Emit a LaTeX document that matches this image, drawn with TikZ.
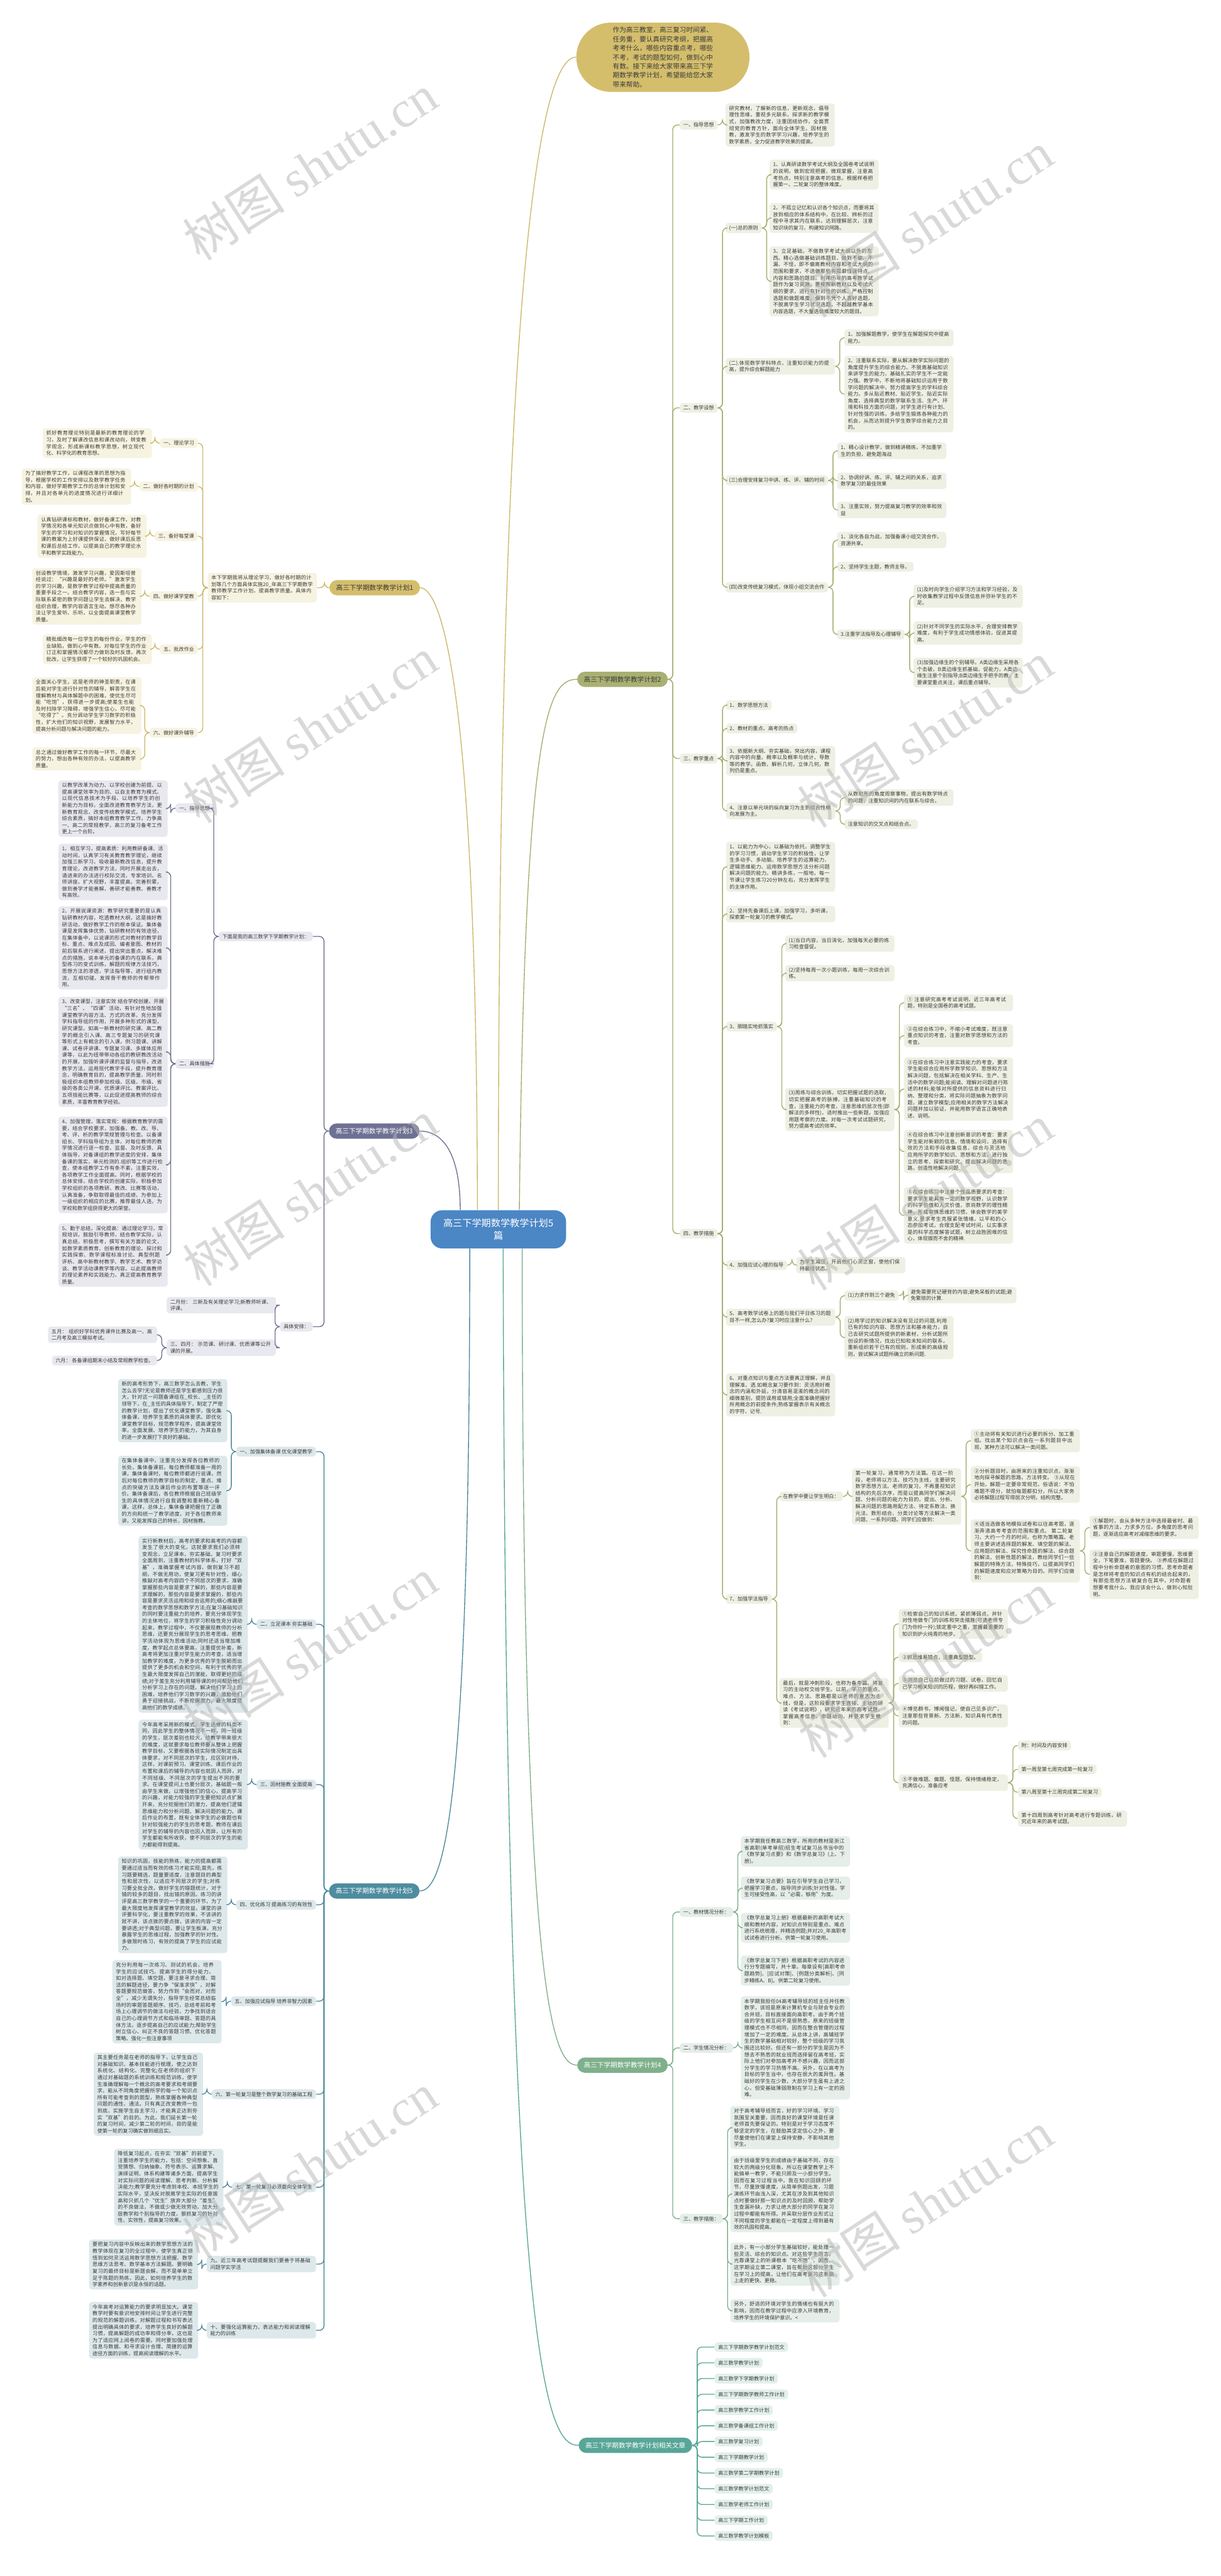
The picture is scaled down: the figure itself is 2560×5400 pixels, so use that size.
\documentclass[tikz,border=0pt]{standalone}
\usepackage{fontspec}
\setmainfont{Noto Sans CJK SC}
\newfontfamily\wmlat{Liberation Serif}
\XeTeXlinebreaklocale "zh"
\XeTeXlinebreakskip=0pt plus 1pt
\definecolor{txt}{HTML}{3A3A3A}
\definecolor{f1}{HTML}{F7F3E1}\definecolor{n1}{HTML}{D4BE6C}\definecolor{l1}{HTML}{CDB868}
\definecolor{f2}{HTML}{EFF0E4}\definecolor{n2}{HTML}{A9B072}\definecolor{l2}{HTML}{A6AD6E}
\definecolor{f3}{HTML}{E8E8EF}\definecolor{n3}{HTML}{6F7194}\definecolor{l3}{HTML}{6E7090}
\definecolor{f4}{HTML}{E5EEE8}\definecolor{n4}{HTML}{7FB08C}\definecolor{l4}{HTML}{80AE8C}
\definecolor{f5}{HTML}{DDE8EB}\definecolor{n5}{HTML}{4E8C9F}\definecolor{l5}{HTML}{4D889B}
\definecolor{f6}{HTML}{E2F0EC}\definecolor{n6}{HTML}{58A697}\definecolor{l6}{HTML}{5AA597}
\definecolor{cc}{HTML}{4B86C5}
\definecolor{wm}{HTML}{B5B5B5}
\tikzset{
  base/.style={rounded corners=3pt, inner xsep=3.75pt, inner ysep=2.6pt, text=txt, font=\fontsize{5.35}{7}\selectfont},
  leaf/.style={base, text width=107pt, align=left},
  lab/.style={base},
  F1/.style={fill=f1},F2/.style={fill=f2},F3/.style={fill=f3},F4/.style={fill=f4},F5/.style={fill=f5},F6/.style={fill=f6},
  L1/.style={draw=l1, line width=0.9pt, rounded corners=5pt},
  L2/.style={draw=l2, line width=0.9pt, rounded corners=5pt},
  L3/.style={draw=l3, line width=0.9pt, rounded corners=5pt},
  L4/.style={draw=l4, line width=0.9pt, rounded corners=5pt},
  L5/.style={draw=l5, line width=0.9pt, rounded corners=5pt},
  L6/.style={draw=l6, line width=0.9pt, rounded corners=5pt},
  mainnode/.style={rounded corners=8pt, inner xsep=7pt, inner ysep=4pt, font=\fontsize{7}{9}\selectfont, minimum height=16pt},
  wmark/.style={rotate=33, text=wm, opacity=0.5, font=\fontsize{54}{54}\selectfont},
}
\newcommand\conR[3]{\draw[#1] (#2.east) -- ++(5pt,0pt) |- (#3.west);}
\newcommand\conL[3]{\draw[#1] (#2.west) -- ++(-5pt,0pt) |- (#3.east);}
\begin{document}
\begin{tikzpicture}[x=0.5pt,y=-0.5pt]
\useasboundingbox (0,0) rectangle (2560,5400);
\fill[white] (0,0) rectangle (2560,5400);

% ---------- center and root ----------
\node[fill=cc, text=white, rounded corners=12pt, font=\fontsize{10}{13}\selectfont, minimum width=142pt, minimum height=40pt, align=center] (cen) at (1045,2577) {高三下学期数学教学计划5\\篇};
\node[fill=n1, text=txt, rounded corners=36pt, text width=105pt, align=left, font=\fontsize{7}{9.5}\selectfont, minimum width=181.5pt, minimum height=72.5pt] (top) at (1390,120) {作为高三教室，高三复习时间紧、任务重，要认真研究考纲，把握高考考什么，哪些内容重点考，哪些不考，考试的题型如何，做到心中有数。接下来给大家带来高三下学期数学教学计划，希望能给您大家带来帮助。};

% ---------- main nodes ----------
\node[mainnode, fill=n1, text=txt, anchor=east] (b1) at (881,1232) {高三下学期数学教学计划1};
\node[mainnode, fill=n2, text=txt, anchor=west] (b2) at (1210,1424) {高三下学期数学教学计划2};
\node[mainnode, fill=n3, text=white, anchor=east] (b3) at (880,2371) {高三下学期数学教学计划3};
\node[mainnode, fill=n5, text=white, anchor=east] (b5) at (880,3964) {高三下学期数学教学计划5};
\node[mainnode, fill=n4, text=white, anchor=west] (b4) at (1210,4329) {高三下学期数学教学计划4};
\node[mainnode, fill=n6, text=white, anchor=west] (b6) at (1213,5126) {高三下学期数学教学计划相关文章};

\draw[l1, line width=0.9pt] (cen.north) .. controls (1045,600) and (1130,118) .. (top.west);
\draw[l1, line width=0.9pt] ([xshift=-22pt]cen.north) .. controls (1000,1400) and (920,1232) .. (b1.east);
\draw[l2, line width=0.9pt] ([xshift=22pt]cen.north) .. controls (1100,1500) and (1150,1424) .. (b2.west);
\draw[l3, line width=0.9pt] ([xshift=-40pt]cen.north) .. controls (965,2420) and (930,2371) .. (b3.east);
\draw[l5, line width=0.9pt] ([xshift=-30pt]cen.south) .. controls (985,3800) and (930,3964) .. (b5.east);
\draw[l4, line width=0.9pt] ([xshift=25pt]cen.south) .. controls (1095,4200) and (1160,4329) .. (b4.west);
\draw[l6, line width=0.9pt] ([xshift=5pt]cen.south) .. controls (1060,5000) and (1150,5126) .. (b6.west);

% ---------- branch 1 (left, gold) ----------
\node[leaf,F1,anchor=east] (b1a) at (665,1232) {本下学期我将从理论学习、做好各时期的计划等几个方面具体实施20\_年高三下学期数学教师教学工作计划，提高教学质量。具体内容如下：};
\node[lab,F1,anchor=east] (b1a1) at (415,929) {一、理论学习};
\node[leaf,F1,anchor=east] (b1a1x) at (319,929) {抓好教育理论特别是最新的教育理论的学习，及时了解课改信息和课改动向，转变教学观念，形成新课标教学思想，树立现代化、科学化的教育思想。};
\node[lab,F1,anchor=east] (b1a2) at (415,1020) {二、做好各时期的计划};
\node[leaf,F1,anchor=east] (b1a2x) at (275,1020) {为了搞好教学工作，以课程改革的思想为指导，根据学校的工作安排以及数学教学任务和内容，做好学期教学工作的总体计划和安排，并且对各单元的进度情况进行详细计划。};
\node[lab,F1,anchor=east] (b1a3) at (415,1124) {三、备好每堂课};
\node[leaf,F1,anchor=east] (b1a3x) at (308,1124) {认真钻研课标和教材，做好备课工作，对教学情况和各单元知识点做到心中有数，备好学生的学习和对知识的掌握情况，写好每节课的教案为上好课提供保证，做好课后反思和课后总结工作，以提高自己的教学理论水平和教学实践能力。};
\node[lab,F1,anchor=east] (b1a4) at (415,1250) {四、做好课学堂教};
\node[leaf,F1,anchor=east] (b1a4x) at (297,1250) {创设教学情境，激发学习兴趣，爱因斯坦曾经说过：“兴趣是最好的老师。”激发学生的学习兴趣，是数学教学过程中提高质量的重要手段之一。结合教学内容，选一些与实际联系紧密的数学问题让学生去解决，教学组织合理，教学内容语言生动。想尽各种办法让学生爱听、乐听，以全面提高课堂教学质量。};
\node[lab,F1,anchor=east] (b1a5) at (415,1361) {五、批改作业};
\node[leaf,F1,anchor=east] (b1a5x) at (319,1361) {精批细改每一位学生的每份作业，学生的作业缺陷，做到心中有数。对每位学生的作业订正和掌握情况都尽力做到及时反馈，再次批改，让学生获得了一个较好的巩固机会。};
\node[lab,F1,anchor=east] (b1a6) at (415,1536) {六、做好课外辅导};
\node[leaf,F1,anchor=east] (b1a6x) at (297,1479) {全面关心学生，这是老师的神圣职责，在课后能对学生进行针对性的辅导，解答学生在理解教材与具体解题中的困难，使优生尽可能“吃饱”，获得进一步提高;使差生也能及时扫除学习障碍，增强学生信心，尽可能“吃得了”。充分调动学生学习数学的积极性，扩大他们的知识视野，发展智力水平，提高分析问题与解决问题的能力。};
\node[leaf,F1,anchor=east] (b1a6y) at (297,1591) {总之通过做好教学工作的每一环节，尽最大的努力，想出各种有效的办法，以提高教学质量。};
\conL{L1}{b1}{b1a}
\foreach \c in {b1a1,b1a2,b1a3,b1a4,b1a5,b1a6} {\conL{L1}{b1a}{\c}}
\foreach \p in {b1a1,b1a2,b1a3,b1a4,b1a5} {\conL{L1}{\p}{\p x}}
\conL{L1}{b1a6}{b1a6x}\conL{L1}{b1a6}{b1a6y}

% ---------- branch 2 (right, olive) ----------
\node[lab,F2,anchor=west] (b2a) at (1425,262) {一、指导思想};
\node[leaf,F2,anchor=west] (b2a1) at (1521,262) {研究教材，了解新的信息，更新观念，倡导理性思维，重视多元联系，探求新的教学模式，加强教改力度，注重团结协作，全面贯彻党的教育方针，面向全体学生，因材施教，激发学生的数学学习兴趣，培养学生的数学素质，全力促进教学效果的提高。};
\node[lab,F2,anchor=west] (b2b) at (1425,855) {二、教学设想};
\node[lab,F2,anchor=west] (b2b1) at (1521,478) {(一)总的原则};
\node[leaf,F2,anchor=west] (b2b1a) at (1613,366) {1、认真研读数学考试大纲及全国卷考试说明的说明，做到宏观把握，微观掌握，注意高考热点，特别注意高考的信息。根据样卷把握第一、二轮复习的整体难度。};
\node[leaf,F2,anchor=west] (b2b1b) at (1613,457) {2、不孤立记忆和认识各个知识点，而要将其放到相应的体系结构中，在比较、辨析的过程中寻求其内在联系，达到理解层次，注意知识块的复习，构建知识网路。};
\node[leaf,F2,anchor=west] (b2b1c) at (1613,590) {3、立足基础，不做数学考试大纲以外的东西。精心选做基础训练题目，做到不偏、不漏、不怪，即不偏离教材内容和考试大纲的范围和要求，不选做那些有孤僻怪诞特点、内容和思路的题目。利用历年的高考数学试题作为复习资源，要按照新教材以及考试大纲的要求，进行有针对性的训练。严格控制选题和做题难度，做到不凭个人喜好选题，不脱离学生学习状况选题，不超越教学基本内容选题，不大量选做难度较大的题目。};
\node[leaf,F2,anchor=west] (b2b2) at (1521,768) {(二).体现数学学科特点，注重知识能力的提高，提升综合解题能力};
\node[leaf,F2,anchor=west] (b2b2a) at (1770,708) {1、加强解题教学，使学生在解题探究中提高能力。};
\node[leaf,F2,anchor=west] (b2b2b) at (1770,826) {2、注重联系实际，要从解决数学实际问题的角度提升学生的综合能力。不脱离基础知识来讲学生的能力，基础扎实的学生不一定能力强。教学中，不断地将基础知识运用于数学问题的解决中，努力提高学生的学科综合能力。多从贴近教材、贴近学生、贴近实际角度，选择典型的数学联系生活、生产、环境和科技方面的问题，对学生进行有计划、针对性强的训练，多给学生锻炼各种能力的机会，从而达到提升学生数学综合能力之目的。};
\node[lab,F2,anchor=west] (b2b3) at (1521,1007) {(三)合理安排复习中讲、练、评、辅的时间};
\node[leaf,F2,anchor=west] (b2b3a) at (1755,945) {1、精心设计教学，做到精讲精练，不加重学生的负担，避免题海战};
\node[leaf,F2,anchor=west] (b2b3b) at (1755,1008) {2、协调好讲、练、评、辅之间的关系，追求数学复习的最佳效果};
\node[leaf,F2,anchor=west] (b2b3c) at (1755,1069) {3、注重实效，努力提高复习教学的效率和效益};
\node[lab,F2,anchor=west] (b2b4) at (1521,1231) {(四)改变传统复习模式，体现小组交流合作};
\node[leaf,F2,anchor=west] (b2b4a) at (1755,1132) {1、淡化各自为战，加强备课小组交流合作，资源共享。};
\node[lab,F2,anchor=west] (b2b4b) at (1755,1188) {2、坚持学生主题，教师主导。};
\node[lab,F2,anchor=west] (b2b4c) at (1755,1330) {3.注重学法指导及心理辅导};
\node[leaf,F2,anchor=west] (b2b4c1) at (1915,1250) {(1)及时向学生介绍学习方法和学习经验，及时收集教学过程中反馈信息并弥补学生的不足。};
\node[leaf,F2,anchor=west] (b2b4c2) at (1915,1327) {(2)针对不同学生的实际水平，合理安排教学难度，有利于学生成功情感体验，促进其提高。};
\node[leaf,F2,anchor=west] (b2b4c3) at (1915,1410) {(3)加强边缘生的个别辅导。A类边缘生采用各个击破，B类边缘生抓基础，促能力，A类边缘生注意个别指导;B类边缘生手把手的教，主要课堂重点关注，课后重点辅导。};
\node[lab,F2,anchor=west] (b2c) at (1425,1590) {三、教学重点};
\node[lab,F2,anchor=west] (b2c1) at (1522,1478) {1、数学思想方法};
\node[lab,F2,anchor=west] (b2c2) at (1522,1527) {2、教材的重点、高考的热点};
\node[leaf,F2,anchor=west] (b2c3) at (1522,1595) {3、依据新大纲、夯实基础，突出内容，课程内容中的向量、概率以及概率与统计、导数等的教学。函数，解析几何，立体几何，数列仍是重点。};
\node[leaf,F2,anchor=west] (b2c4) at (1522,1700) {4、注意以单元块的纵向复习为主到综合性横向发展为主。};
\node[leaf,F2,anchor=west] (b2c4a) at (1770,1672) {从数和形的角度观察事物，提出有数学特点的问题，注重知识间的内在联系与综合。};
\node[lab,F2,anchor=west] (b2c4b) at (1770,1728) {注意知识的交叉点和结合点。};
\node[lab,F2,anchor=west] (b2d) at (1425,2586) {四、教学措施};
\node[leaf,F2,anchor=west] (b2d1) at (1522,1817) {1、以能力为中心，以基础为依托，调整学生的学习习惯，调动学生学习的积极性，让学生多动手、多动脑，培养学生的运算能力、逻辑思维能力、运用数学思想方法分析问题解决问题的能力。精讲多练，一般地，每一节课让学生练习20分钟左右，充分发挥学生的主体作用。};
\node[leaf,F2,anchor=west] (b2d2) at (1522,1916) {2、坚持先备课后上课，加强学习，多听课，探索第一轮复习的教学模式。};
\node[lab,F2,anchor=west] (b2d3) at (1522,2152) {3、脚踏实地抓落实};
\node[leaf,F2,anchor=west] (b2d3a) at (1646,1978) {(1)当日内容，当日消化，加强每天必要的练习检查督促。};
\node[leaf,F2,anchor=west] (b2d3b) at (1646,2040) {(2)坚持每周一次小题训练，每周一次综合训练。};
\node[leaf,F2,anchor=west] (b2d3c) at (1646,2326) {(3)周练与综合训练，切实把握试题的选取，切实把握高考的脉搏，注重基础知识的考查，注重能力的考查，注意思维的层次性(即解法的多样性)，适时推出一些新题，加强应用题考察的力度。对每一次考试试题研究，努力提高考试的效率。};
\node[leaf,F2,anchor=west] (b2d3c1) at (1895,2102) {① 注意研究高考考试说明，近三年高考试题，特别是全国卷的高考试题。};
\node[leaf,F2,anchor=west] (b2d3c2) at (1895,2171) {②在综合练习中，不缩小考试难度，既注意重点知识的考查，注重对数学思想和方法的考查。};
\node[leaf,F2,anchor=west] (b2d3c3) at (1895,2283) {③在综合练习中注意实践能力的考查，要求学生能综合应用所学数学知识、思想和方法解决问题，包括解决在相关学科、生产、生活中的数学问题;能阅读、理解对问题进行陈述的材料;能够对所提供的信息资料进行归纳、整理和分类，将实际问题抽象为数学问题，建立数学模型;应用相关的数学方法解决问题并加以验证，并能用数学语言正确地表述、说明。};
\node[leaf,F2,anchor=west] (b2d3c4) at (1895,2414) {④在综合练习中注意创新意识的考查：要求学生能对新颖的信息、情境和设问，选择有效的方法和手段收集信息，综合与灵活地应用所学的数学知识、思想和方法，进行独立的思考、探索和研究，提出解决问题的思路，创造性地解决问题.};
\node[leaf,F2,anchor=west] (b2d3c5) at (1895,2548) {⑤在综合练习中注意个性品质要求的考查：要求学生能具有一定的数学视野，认识数学的科学价值和人文价值，崇尚数学的理性精神，形成审慎思维的习惯，体会数学的美学意义.要求考生克服紧张情绪，以平和的心态参加考试，合理支配考试时间，以实事求是的科学态度解答试题，树立战胜困难的信心，体现锲而不舍的精神.};
\node[lab,F2,anchor=west] (b2d4) at (1522,2652) {4、加强应试心理的指导};
\node[leaf,F2,anchor=west] (b2d4a) at (1669,2652) {为学生减压，开启他们心灵之窗，使他们保持最佳状态。};
\node[leaf,F2,anchor=west] (b2d5) at (1522,2761) {5、高考数学试卷上的题与我们平日练习的题目不一样,怎么办?复习时应注意什么?};
\node[lab,F2,anchor=west] (b2d5a) at (1770,2716) {(1)力求作到三个避免};
\node[leaf,F2,anchor=west] (b2d5a1) at (1902,2715) {避免需要死记硬背的内容;避免呆板的试题;避免繁琐的计算.};
\node[leaf,F2,anchor=west] (b2d5b) at (1770,2804) {(2)用学过的知识解决没有见过的问题.利用已有的知识内容、思想方法和基本能力，自己去研究试题所提供的新素材，分析试题所创设的新情况，找出已知和未知间的联系，重新组织若干已有的规则，形成新的高级规则，尝试解决试题所确立的新问题.};
\node[leaf,F2,anchor=west] (b2d6) at (1522,2924) {6、对重点知识与重点方法要真正理解，并且理解准、透.如概念复习要作到：灵活用好概念的内涵和外延，分清容易混淆的概念间的细微差别，提防误用或错用;全面准确把握好所用概念的前提条件;熟练掌握表示有关概念的字符、记号.};
\node[lab,F2,anchor=west] (b2d7) at (1522,3352) {7、加强学法指导};
\node[lab,F2,anchor=west] (b2d7a) at (1634,3137) {在教学中要让学生明白：};
\node[leaf,F2,anchor=west] (b2d7a1) at (1786,3137) {第一轮复习，通常称为方法篇。在这一阶段，老师将以方法、技巧为主线，主要研究数学思想方法。老师的复习，不再重视知识结构的先后次序，而是以提高同学们解决问题、分析问题的能力为目的，提出、分析、解决问题的思路用配方法、待定系数法、换元法、数形结合、分类讨论等方法解决一类问题、一系列问题。同学们应做到：};
\node[leaf,F2,anchor=west] (b2d7a1a) at (2035,3020) {①主动将有关知识进行必要的拆分、加工重组。找出某个知识点会在一系列题目中出现，某种方法可以解决一类问题。};
\node[leaf,F2,anchor=west] (b2d7a1b) at (2035,3112) {②分析题目时，由原来的注重知识点，渐渐地向探寻解题的思路、方法转变。 ③从现在开始，解题一定要非常规范，俗语说：不怕难题不得分，就怕每题都扣分，所以大家务必将解题过程写得层次分明，结构完整。};
\node[leaf,F2,anchor=west] (b2d7a1c) at (2035,3251) {④适当选做各地模拟试卷和以往高考题，逐渐弄清高考考查的范围和重点。 第二轮复习，大约一个月的时间，也称为策略篇。老师主要讲述选择题的解发、填空题的解法、应用题的解法、探究性命题的解法、综合题的解法、创新性题的解法，教给同学们一些解题的特殊方法，特殊技巧，以提高同学们的解题速度和应对策略为目的。同学们应做到：};
\node[leaf,F2,anchor=west] (b2d7a1c1) at (2284,3202) {①解题时，会从多种方法中选择最省时、最省事的方法，力求多方位，多角度的思考问题，逐渐适应高考对减缩思维的要求。};
\node[leaf,F2,anchor=west] (b2d7a1c2) at (2284,3300) {②注意自己的解题速度，审题要慢，思维要全，下笔要准，答题要快。 ③养成在解题过程中分析命题者的意图的习惯，思考命题者是怎样将考查的知识点有机的结合起来的，有那些思想方法被复合在其中，对命题者想要考我什么，我应该会什么，做到心知肚明。};
\node[leaf,F2,anchor=west] (b2d7b) at (1634,3570) {最后，就是冲刺阶段，也称为备考篇。将复习的主动权交给学生。以前，学习的重点、难点、方法、思路都是以老师的意志为主线，但是，这阶段要求学生直接、主动的研读《考试说明》，研究近年来的高考试题，掌握高考信息、命题动向，并要求学生做到：};
\node[leaf,F2,anchor=west] (b2d7b1) at (1884,3404) {①检索自己的知识系统，紧抓薄弱点，并针对性地做专门的训练和突击措施(可请老师专门为你拎一拎);锁定重中之重，掌握最重要的知识到炉火纯青的地步。};
\node[lab,F2,anchor=west] (b2d7b2) at (1884,3474) {②抓思维易错点，注重典型题型。};
\node[leaf,F2,anchor=west] (b2d7b3) at (1884,3529) {③浏览自己以前做过的习题、试卷，回忆自己学习相关知识的历程，做好再纠错工作。};
\node[leaf,F2,anchor=west] (b2d7b4) at (1884,3597) {④博览群书，博闻强记，使自己见多识广，注意那些背景新、方法新，知识具有代表性的问题。};
\node[leaf,F2,anchor=west] (b2d7b5) at (1884,3737) {⑤不做难题、偏题、怪题，保持情绪稳定，充满信心，准备应考};
\node[lab,F2,anchor=west] (b2d7b5a) at (2134,3659) {附：时间及内容安排};
\node[lab,F2,anchor=west] (b2d7b5b) at (2134,3709) {第一周至第七周完成第一轮复习};
\node[lab,F2,anchor=west] (b2d7b5c) at (2134,3757) {第八周至第十三周完成第二轮复习};
\node[leaf,F2,anchor=west] (b2d7b5d) at (2134,3812) {第十四周到高考针对高考进行专题训练，研究近年来的高考试题。};

\foreach \c in {b2a,b2b,b2c,b2d} {\conR{L2}{b2}{\c}}
\conR{L2}{b2a}{b2a1}
\foreach \c in {b2b1,b2b2,b2b3,b2b4} {\conR{L2}{b2b}{\c}}
\foreach \c in {b2b1a,b2b1b,b2b1c} {\conR{L2}{b2b1}{\c}}
\foreach \c in {b2b2a,b2b2b} {\conR{L2}{b2b2}{\c}}
\foreach \c in {b2b3a,b2b3b,b2b3c} {\conR{L2}{b2b3}{\c}}
\foreach \c in {b2b4a,b2b4b,b2b4c} {\conR{L2}{b2b4}{\c}}
\foreach \c in {b2b4c1,b2b4c2,b2b4c3} {\conR{L2}{b2b4c}{\c}}
\foreach \c in {b2c1,b2c2,b2c3,b2c4} {\conR{L2}{b2c}{\c}}
\foreach \c in {b2c4a,b2c4b} {\conR{L2}{b2c4}{\c}}
\foreach \c in {b2d1,b2d2,b2d3,b2d4,b2d5,b2d6,b2d7} {\conR{L2}{b2d}{\c}}
\foreach \c in {b2d3a,b2d3b,b2d3c} {\conR{L2}{b2d3}{\c}}
\foreach \c in {b2d3c1,b2d3c2,b2d3c3,b2d3c4,b2d3c5} {\conR{L2}{b2d3c}{\c}}
\conR{L2}{b2d4}{b2d4a}
\foreach \c in {b2d5a,b2d5b} {\conR{L2}{b2d5}{\c}}
\conR{L2}{b2d5a}{b2d5a1}
\foreach \c in {b2d7a,b2d7b} {\conR{L2}{b2d7}{\c}}
\conR{L2}{b2d7a}{b2d7a1}
\foreach \c in {b2d7a1a,b2d7a1b,b2d7a1c} {\conR{L2}{b2d7a1}{\c}}
\foreach \c in {b2d7a1c1,b2d7a1c2} {\conR{L2}{b2d7a1c}{\c}}
\foreach \c in {b2d7b1,b2d7b2,b2d7b3,b2d7b4,b2d7b5} {\conR{L2}{b2d7b}{\c}}
\foreach \c in {b2d7b5a,b2d7b5b,b2d7b5c,b2d7b5d} {\conR{L2}{b2d7b5}{\c}}

% ---------- branch 3 (left, slate) ----------
\node[lab,F3,anchor=east] (b3a) at (656,1963) {下面是我的高三数学下学期教学计划：};
\node[lab,F3,anchor=east] (b3a1) at (448,1694) {一、指导思想};
\node[leaf,F3,anchor=east] (b3a1x) at (352,1695) {以教学改革为动力、以学校创建为前提、以提高课堂效率为目的、以自主教育为模式、以现代信息技术为手段、以培养学生的创新能力为目标，全面改进教育教学方法，更新教育观念，改变传统教学模式，培养学生综合素质，搞好本组教育教学工作，力争高一、高二的常规教学，高三的复习备考工作更上一个台阶。};
\node[lab,F3,anchor=east] (b3a2) at (448,2230) {二、具体措施};
\node[leaf,F3,anchor=east] (b3a2a) at (352,1828) {1、相互学习，提高素质：利用教研备课、活动时间，认真学习有关教育教学理论，继续加强三新学习，吸收最新教改信息，提升教育理论，改进教学方法，同时开展走出去，请进来的办法进行校际交流，专家培训，名师讲座，扩大视野，丰富提高，完善积累，做到善学才能善解，善研才能善教、善教才有高效。};
\node[leaf,F3,anchor=east] (b3a2b) at (352,1987) {2、开展说课资源：教学研究重要的是认真钻研教材内容，吃透教材大纲，这是搞好教研活动，做好教学工作的根本保证。集体备课是发挥集体优势，钻研教材的有效途径，在集体备中，以说课的形式对教材的教学目标、重点、难点及成因、编者意图、教材的前后联系进行阐述，提出突出重点，解决难点的措施，说本单元的备课的内在联系，典型练习的变式训练，解题的规律方法技巧，思想方法的渗透，学法指导等，进行组内教流，互相切磋，发挥骨干教师的传帮带作用。};
\node[leaf,F3,anchor=east] (b3a2c) at (352,2205) {3、改变课型，注意实效 结合学校创建，开展“三名”、“四课”活动，有针对性地加强课堂教学内容方法、方式的改革，充分发挥学科指导组的作用，开展多种形式的课型，研究课型。如高一新教材的研究课、高二教学的概念引入课、高三专题复习的研究课等形式上有概念的引入课，例习题课、讲解课、试卷评讲课、专题复习课、多媒体应用课等，以此为纽带带动各组的教研教改活动的开展，加强听课评课的监督与指导，改进教学方法，运用现代教学手段，提升教育理念，明确教育目的，提高教学质量，同时积极组织本组教师参加校级、区级、市级、省级的各类公开课，优质课评比、教案评比、五项技能比赛等，以此促进提高教师的综合素质，丰富教育教学经验。};
\node[leaf,F3,anchor=east] (b3a2d) at (352,2442) {4、加强管理，落实常规：根据教育教学的需要，结合学校要求，加强备、教、改、导、考、评、析的教学常规管理与检查。以备课组长、学科指导组为主体，对每位教师的教学情况进行逐一检查、监督、及时反馈、具体指导，对备课组的教学进度的安排，集体备课的落实，单元检测的.组织等工作进行检查，使本组教学工作有条不紊，注重实效，各项教学工作全面提高。同时，根据学校的总体安排，结合学校的创建实际，积极参加学校组织的各项教研、教改、比赛等活动，认真准备，争取取得最佳的成绩，为参加上一级组织的相应的比赛，推荐最佳人选，为学校和数学组获得更大的荣誉。};
\node[leaf,F3,anchor=east] (b3a2e) at (352,2631) {5、勤于总结，深化提高：通过理论学习，常规培训，鼓励引导教师，结合教学实际，认真总结，积极思考，撰写有关方面的论文，如数学素质教育、创新教育的理论、探讨和实践探索、数学课程标准讨论、典型例题评析、高中新教材教学、教学艺术、教学访谈、教学活动课教学等内容。以此提高教师的理论素养和实践能力，真正提高教育教学质量。};
\node[lab,F3,anchor=east] (b3b) at (656,2781) {具体安排：};
\node[leaf,F3,anchor=east] (b3b1) at (579,2736) {二月份： 三新及有关理论学习;新教师听课、评课。};
\node[leaf,F3,anchor=east] (b3b2) at (579,2825) {三、四月： 示范课、研讨课、优质课等公开课的开展。};
\node[leaf,F3,anchor=east] (b3b2a) at (330,2798) {五月： 组织好学科优秀课件比赛及高一、高二月考及高三模拟考试。};
\node[lab,F3,anchor=east] (b3b2b) at (330,2852) {六月： 各备课组期末小结及常规教学检查。};
\foreach \c in {b3a,b3b} {\conL{L3}{b3}{\c}}
\foreach \c in {b3a1,b3a2} {\conL{L3}{b3a}{\c}}
\conL{L3}{b3a1}{b3a1x}
\foreach \c in {b3a2a,b3a2b,b3a2c,b3a2d,b3a2e} {\conL{L3}{b3a2}{\c}}
\foreach \c in {b3b1,b3b2} {\conL{L3}{b3b}{\c}}
\foreach \c in {b3b2a,b3b2b} {\conL{L3}{b3b2}{\c}}

% ---------- branch 5 (left, teal) ----------
\node[lab,F5,anchor=east] (b5a) at (663,3043) {一、加强集体备课 优化课堂教学};
\node[leaf,F5,anchor=east] (b5a1) at (477,2957) {新的高考形势下，高三数学怎么去教，学生怎么去学?无论是教师还是学生都感到压力很大，针对这一问题备课组在\_校长、\_主任的领导下，在\_主任的具体指导下，制定了严密的教学计划，提出了优化课堂教学，强化集体备课，培养学生素质的具体要求。即优化课堂教学目标，规范教学程序，提高课堂效率，全面发展、培养学生的能力，为其自身的进一步发展打下良好的基础。};
\node[leaf,F5,anchor=east] (b5a2) at (477,3125) {在集体备课中，注重充分发挥各位教师的长处，集体备课前，每位教师都准备一周的课，集体备课时，每位教师都进行说课，然后对每位教师的教学目标的制定，重点、难点的突破方法及课后作业的布置等逐一评价。集体备课后，各位教师根据自己班级学生的具体情况进行自我调整和重新精心备课，这样，总体上，集体备课把握住了正确的方向和统一了教学进度，对于各位教师来讲，又能发挥自己的特长，因材施教。};
\node[lab,F5,anchor=east] (b5b) at (663,3405) {二、立足课本 夯实基础};
\node[leaf,F5,anchor=east] (b5b1) at (520,3405) {实行新教材后，高考的要求和高考的内容都发生了很大的变化，这就要求我们必须转变观念，立足课本，夯实基础。复习时要求全面周到，注重教材的科学体系，打好“双基”，准确掌握考试内容，做到复习不超纲，不做无用功，使复习更有针对性，细心推敲对高考内容四个不同层次的要求，准确掌握那些内容是要求了解的，那些内容是要求理解的，那些内容是要求掌握的，那些内容是要求灵活运用和综合运用的;细心推敲要考查的数学思想和数学方法;在复习基础知识的同时要注重能力的培养，要充分体现学生的主体地位，将学生的学习积极性充分调动起来，教学过程中，不仅要展现教师的分析思维，还要充分展现学生的思考思维，把教学活动体现为思维活动;同时还适当增加难度，教学起点总体要高，注重提优补差，新高考将更加注重对学生能力的考查，适当增加教学的难度，为更多优秀的学生脱颖而出提供了更多的机会和空间，有利于优秀的学生最大限度发挥自己的潜能，取得更好的成绩;对于差生充分利用辅导课的时间帮助他们分析学习上存在的问题，解决他们学习上的困难，培养他们学习数学的兴趣，激励他们勇于迎接挑战，不断挖掘潜力，最大限度提高他们的数学成绩。};
\node[lab,F5,anchor=east] (b5c) at (663,3741) {三、因材施教 全面提高};
\node[leaf,F5,anchor=east] (b5c1) at (520,3741) {今年高考采用新的模式，学生选修的科类不同，因此学生的整体情况不一样，同一班级的学生，层次差别也较大，给教学带来很大的难度，这就要求每位教师要从整体上把握教学目标，又要根据各班实际情况制定出具体要求，对不同层次的学生，应区别对待，这样，对课前预习、课堂训练、课后作业的布置和课后的辅导的内容也就因人而异，对不同班级、不同层次的学生提出不同的要求。在课堂提问上也要分层次，基础题一般由学生来做，以增强他们的信心，提高学习的兴趣，对能力较强的学生要把知识点扩展开来，充分挖掘他们的潜力，提高他们逻辑思维能力和分析问题、解决问题的能力。课后作业的布置，既有全体学生的必做题也有针对较强能力的学生的思考题，教师在课后对学生的辅导的内容也因人而异，让所有的学生都能有所收获，使不同层次的学生的能力都能得到提高。};
\node[lab,F5,anchor=east] (b5d) at (663,3993) {四、优化练习 提高练习的有效性};
\node[leaf,F5,anchor=east] (b5d1) at (477,3993) {知识的巩固，技能的熟练，能力的提高都需要通过适当而有效的练习才能实现;首先，练习题要精选，题量要适度，注意题目的典型性和层次性，以适应不同层次的学生;对练习要全批全改，做好学生的错题统计，对于错的较多的题目，找出错的原因。练习的讲评是高三数学教学的一个重要的环节，为了最大限度地发挥课堂教学的效益，课堂的讲评要科学化，要注重教学的效果，不该讲的就不讲，该点拨的要点拨，该讲的内容一定要讲透;对于典型问题，要让学生板演，充分暴露学生的思维过程，加强教学的针对性。多做限时练习，有效的提高了学生的应试能力。};
\node[lab,F5,anchor=east] (b5e) at (663,4195) {五、加强应试指导 培养非智力因素};
\node[leaf,F5,anchor=east] (b5e1) at (465,4196) {充分利用每一次练习、测试的机会，培养学生的应试技巧，提高学生的得分能力，如对选择题、填空题，要注意寻求合理、简洁的解题途径，要力争“保准求快”，对解答题要规范做答，努力作到“会而对，对而全”，减少无谓失分，指导学生经常总结临场时的审题答题顺序、技巧，总结考前和考场上心理调节的做法与经验，力争找到适合自己的心理调节方式和临场审题、答题的具体方法，逐步提高自己的应试能力;帮助学生树立信心、纠正不良的答题习惯、优化答题策略、强化一些注意事项};
\node[lab,F5,anchor=east] (b5f) at (663,4390) {六、第一轮复习是整个数学复习的基础工程};
\node[leaf,F5,anchor=east] (b5f1) at (426,4390) {其主要任务是在老师的指导下，让学生自己对基础知识、基本技能进行梳理，使之达到系统化、结构化、完整化;在老师的组织下通过对基础题的系统训练和规范训练，使学生准确理解每一个概念的高考要求和考纲要求，能从不同角度把握所学的每一个知识点所有可能考查到的题型，熟练掌握各种典型问题的通性、通法。只有真正改变教师一包到底，实施学生自主学习，才能真正达到夯实“双基”的目的。为此，我们延长第一轮的复习时间，减少第二轮的时间，目的是能使第一轮的复习确实做到细且实。};
\node[lab,F5,anchor=east] (b5g) at (663,4585) {七、第一轮复习必须面向全体学生};
\node[leaf,F5,anchor=east] (b5g1) at (469,4585) {降低复习起点，在夯实“双基”的前提下，注重培养学生的能力，包括：空间想象、直觉猜想、归纳抽象、符号表示、运算求解、演绎证明、体系构建等诸多方面，提高学生对实际问题的阅读理解、思考判断、分析解决能力;教学要充分考虑到本校、本班学生的实际水平，坚决反对脱离学生实际的任意拔高和只抓几个“优生”放弃大部分“差生”的不良做法，不做或少做无效劳动，加大分层教学和个别指导的力度，狠抓复习的针对性、实效性，提高复习效果。};
\node[leaf,F5,anchor=east] (b5h) at (663,4746) {九、近三年高考试题提醒我们要善于将基础问题学实学活};
\node[leaf,F5,anchor=east] (b5h1) at (416,4747) {要把复习内容中反映出来的数学思想方法的教学体现在复习的全过程中，使学生真正领悟到如何灵活运用数学思想方法把握、数学思维方法思考、数学基本方法解题。要明确复习的最终目标是新题会解，而不是单单立足于陈题的熟练，因此，如何培养学生的数学素养和创新意识是永恒的话题。};
\node[leaf,F5,anchor=east] (b5i) at (663,4885) {十、要强化运算能力、表达能力和阅读理解能力的训练};
\node[leaf,F5,anchor=east] (b5i1) at (416,4885) {今年高考对运算能力的要求明显加大。课堂教学时要有意识地安排时间让学生进行完整的规范的解题训练，对解题过程和书写表达提出明确具体的要求，培养学生良好的解题习惯，提高解题的成功率和得分率，这也是为了适应网上阅卷的需要。同时要加强处理信息与数据、和寻求设计合理、简捷的运算途径方面的训练，提高阅读理解的水平。};
\foreach \c in {b5a,b5b,b5c,b5d,b5e,b5f,b5g,b5h,b5i} {\conL{L5}{b5}{\c}}
\foreach \c in {b5a1,b5a2} {\conL{L5}{b5a}{\c}}
\foreach \p in {b5b,b5c,b5d,b5e,b5f,b5g,b5h,b5i} {\conL{L5}{\p}{\p 1}}

% ---------- branch 4 (right, green) ----------
\node[lab,F4,anchor=west] (b4a) at (1425,4008) {一、教材情况分析：};
\node[leaf,F4,anchor=west] (b4a1) at (1553,3881) {本学期我任教高三数学，所用的教材是浙江省高职(单考单招)招生考试复习丛书当中的《数学复习点要》和《数学总复习》(上、下册)。};
\node[leaf,F4,anchor=west] (b4a2) at (1553,3958) {《数学复习点要》旨在引导学生自己学习，把握学习要点，指导同步训练;针对性强，学生可接受性高，以“必需，够用”为度。};
\node[leaf,F4,anchor=west] (b4a3) at (1553,4041) {《数学总复习上册》根据最新的高职考试大纲和教材内容，对知识点特别是重点、难点进行系统梳理，并精选例题;并对20\_年高职考试试卷进行分析。供第一轮复习使用。};
\node[leaf,F4,anchor=west] (b4a4) at (1553,4131) {《数学总复习下册》根据高职考试的内容进行分专题编写，共十章。每章设有[高职考命题趋势]、[应试对策]、[例题分类解析]、[同步精练A、B]。供第二轮复习使用。};
\node[lab,F4,anchor=west] (b4b) at (1425,4293) {二、学生情况分析：};
\node[leaf,F4,anchor=west] (b4b1) at (1553,4293) {本学期我担任04高考辅导班的班主任并任教数学，该班是原来计算机专业与财会专业的合并班，目标直接面向高职考。由于两个班级的学生相互间不是很熟悉，原来的班级管理模式也不尽相同，因而在整合管理的过程增加了一定的难度。从总体上讲，高辅班学生的数学基础相对较好，整个班级的学习氛围还比较好。但还有一部分的学生是因为不想去不熟悉的就业班而选择留在高考班，实际上他们对参加高考并不感兴趣，因而这部分学生的学习热情不高。另外，在以高考为目标的学生当中，也存在很大的差异性。基础好的学生在少数，大部分学生虽有上进之心，但受基础薄弱限制在学习上有一定的困难。};
\node[lab,F4,anchor=west] (b4c) at (1425,4651) {三、教学措施：};
\node[leaf,F4,anchor=west] (b4c1) at (1531,4460) {对于高考辅导班而言，好的学习环境、学习氛围至关重要，因而良好的课堂环境是任课老师首先要保证的。特别是对于学习态度不够坚定的学生，在鼓励其坚定信心之外，要尽量使他们在课堂上保持安静，不影响其他学生。};
\node[leaf,F4,anchor=west] (b4c2) at (1531,4599) {由于班级里学生的成绩由于基础不同，存在较大的两级分化现象，所以在课堂教学上不能搞单一教学，不能只顾及一小部分学生。因而在复习过程当中，我在知识回顾的环节，尽量放慢速度，从简单例题出发，习题演练环节由浅入深，尤其在涉及到其他知识点时要做好那一知识点的及时回顾，帮助学生查漏补缺，力求让绝大部分的同学在复习过程中都能有所得。并采取分层作业形式让不同程度的学生都能在一定程度上得到最有效的巩固和提高。};
\node[leaf,F4,anchor=west] (b4c3) at (1531,4746) {此外，有一小部分学生基础较好，能处理一些灵活、综合的知识点。对这些学生而言，光靠课堂上的听课根本“吃不饱”，因而，这学期设立第二课堂，旨在帮助这部分学生在学习上的提高，让他们在高考复习这条路上走的更快、更稳。};
\node[leaf,F4,anchor=west] (b4c4) at (1531,4844) {另外，舒适的环境对学生的情绪也有挺大的影响，因而在教学过程中应渗入环境教育，培养学生的环境保护意识。<};
\foreach \c in {b4a,b4b,b4c} {\conR{L4}{b4}{\c}}
\foreach \c in {b4a1,b4a2,b4a3,b4a4} {\conR{L4}{b4a}{\c}}
\conR{L4}{b4b}{b4b1}
\foreach \c in {b4c1,b4c2,b4c3,b4c4} {\conR{L4}{b4c}{\c}}

% ---------- branch 6 (related articles) ----------
\foreach \i/\t in {0/高三下学期数学教学计划范文,1/高三数学教学计划,2/高三数学下学期教学计划,3/高三下学期数学教师工作计划,4/高三数学教学工作计划,5/高三数学备课组工作计划,6/高三数学复习计划,7/高三下学期教学计划,8/高三数学第二学期教学计划,9/高三数学教学计划范文,10/高三数学老师工作计划,11/高三下学期工作计划,12/高三数学教学计划模板} {
  \node[lab,F6,anchor=west] (r\i) at (1498,4920+33*\i) {\t};
  \conR{L6}{b6}{r\i}
}

% ---------- watermarks ----------
\foreach \x/\y in {650/350,1940/470,650/1530,1940/1540,650/2500,1940/2510,650/3460,1940/3490,650/4540,1940/4620} {
  \node[wmark] (wm\x\y) at (\x,\y) {树图 {\wmlat shutu.cn}};
}
\end{tikzpicture}
\end{document}
